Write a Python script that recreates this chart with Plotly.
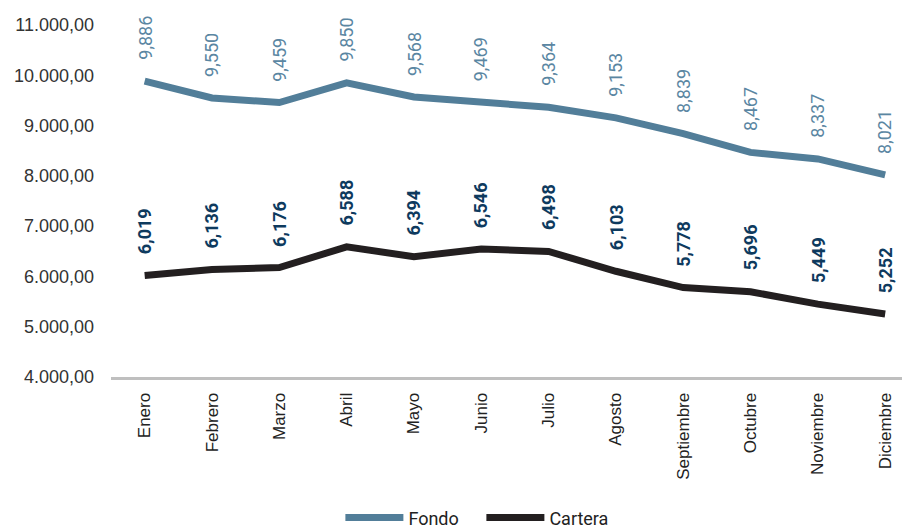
import plotly.graph_objects as go

meses = ["Enero", "Febrero", "Marzo", "Abril", "Mayo", "Junio", "Julio",
         "Agosto", "Septiembre", "Octubre", "Noviembre", "Diciembre"]
fondo = [9886, 9550, 9459, 9850, 9568, 9469, 9364, 9153, 8839, 8467, 8337, 8021]
cartera = [6019, 6136, 6176, 6588, 6394, 6546, 6498, 6103, 5778, 5696, 5449, 5252]
y_ticks = [4000, 5000, 6000, 7000, 8000, 9000, 10000, 11000]
y_tick_text = ["4.000,00", "5.000,00", "6.000,00", "7.000,00", "8.000,00",
               "9.000,00", "10.000,00", "11.000,00"]

FONDO_COLOR = "#527E99"
CARTERA_COLOR = "#231F20"
FONDO_LABEL = "#5A86A2"
CARTERA_LABEL = "#0E3A5E"
NARROW = "Roboto, sans-serif"

fig = go.Figure()
fig.add_trace(go.Scatter(x=meses, y=fondo, mode="lines", name="Fondo",
                         line=dict(color=FONDO_COLOR, width=7), cliponaxis=False))
fig.add_trace(go.Scatter(x=meses, y=cartera, mode="lines", name="Cartera",
                         line=dict(color=CARTERA_COLOR, width=7), cliponaxis=False))

def fmt(v):
    return f"{v:,}"

for m, v in zip(meses, fondo):
    fig.add_annotation(x=m, y=v, text=fmt(v), textangle=-90, showarrow=False,
                       xanchor="center", yanchor="bottom", yshift=19,
                       font=dict(family=NARROW, size=18, color=FONDO_LABEL))
for m, v in zip(meses, cartera):
    fig.add_annotation(x=m, y=v, text=f"<b>{fmt(v)}</b>", textangle=-90, showarrow=False,
                       xanchor="center", yanchor="bottom", yshift=19,
                       font=dict(family=NARROW, size=18, color=CARTERA_LABEL))

fig.update_layout(
    width=902, height=527,
    margin=dict(l=111, r=0, t=25, b=150, autoexpand=False),
    paper_bgcolor="white", plot_bgcolor="white",
    showlegend=True,
    legend=dict(orientation="h", x=0.29, xanchor="left", y=-0.40, yanchor="middle",
                font=dict(family=NARROW, size=18, color="#222222"),
                itemwidth=58, tracegroupgap=0, entrywidth=68, entrywidthmode="pixels"),
    xaxis=dict(type="category", range=[-0.5, 11.25], showgrid=False, zeroline=False,
               showline=True, linecolor="#BFBFBF", linewidth=3, ticks="",
               tickangle=-90, ticklabelstandoff=6, automargin=False,
               tickfont=dict(family="Liberation Sans, Arial, sans-serif", size=17, color="#222222")),
    yaxis=dict(range=[4000, 11000], tickvals=y_ticks, ticktext=y_tick_text,
               showgrid=False, zeroline=False, showline=False, ticks="",
               ticklabelstandoff=16, automargin=False,
               tickfont=dict(family="Liberation Sans, Arial, sans-serif", size=18, color="#333333")),
)

fig.write_html("out.html", config={"displayModeBar": False},
               post_script="document.body.style.margin='0';document.body.style.overflow='hidden';")
